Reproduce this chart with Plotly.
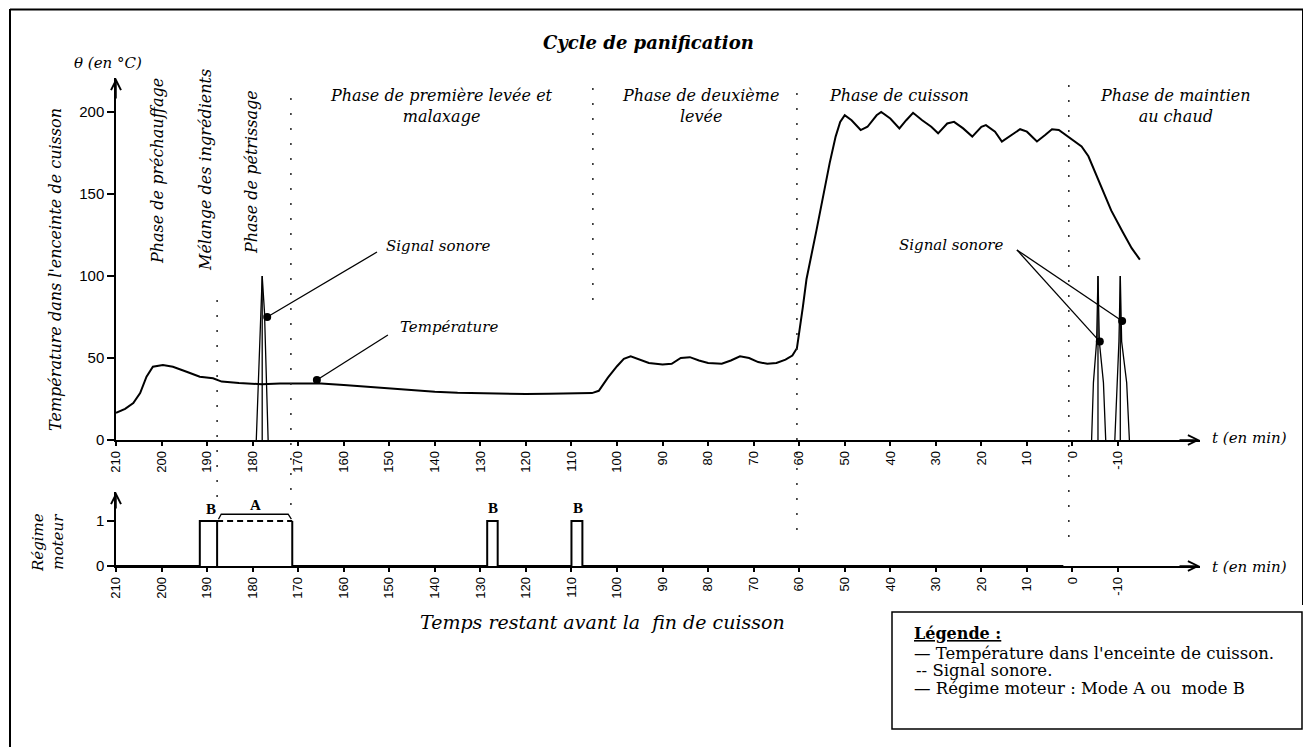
import plotly.graph_objects as go

# ---------------- DATA ----------------
tick_vals = [210, 200, 190, 180, 170, 160, 150, 140, 130, 120, 110, 100, 90, 80, 70, 60, 50, 40, 30, 20, 10, 0, -10]
tick_text = [str(v) for v in tick_vals]
temp_ticks = [0, 50, 100, 150, 200]
motor_ticks = [0, 1]

# Temperature in the baking chamber (time remaining in min, °C)
temp_t = [210, 208, 206.2, 204.7, 203.3, 201.9, 199.7, 197.5, 194.5, 191.6, 188.7, 186.8, 183,
          178, 174, 170, 165, 160, 155, 150, 145, 140, 135, 130, 125, 120, 115, 110, 105.5,
          104, 102, 100, 98.5, 97, 95, 93, 90, 88, 86, 84, 82, 80, 77, 75, 73, 71, 69, 67, 65,
          63, 61.5, 60.5, 59.2, 58.4, 56.2, 54.7, 53.3, 52, 51, 50, 48.5, 46.5, 45, 43, 42, 40,
          38, 36.5, 35, 33, 31, 29.5, 27.5, 26, 24, 22, 20, 19, 17, 15.5, 13, 11.5, 10, 7.8, 6,
          4.5, 3, 1.2, 0, -2, -3.5, -5, -7, -8.5, -11, -13, -14.8]
temp_v = [16.5, 19, 22.5, 28.6, 38.6, 44.7, 45.7, 44.7, 41.6, 38.6, 37.6, 35.6, 34.7,
          34, 34.5, 34.5, 34.5, 33.5, 32.5, 31.5, 30.2, 29.4, 28.8, 28.4, 28.2, 28, 28.2, 28.4, 28.6,
          30, 38, 45, 49.5, 51, 49, 47, 46, 46.5, 50, 50.5, 48.5, 47, 46.5, 48.5, 51, 50, 47.5, 46.5, 47,
          49, 51.5, 56, 81, 98, 128, 150, 169, 185, 194, 198, 195, 189, 191, 198, 200, 196,
          190, 195, 199.5, 195, 191, 187, 193, 194, 190, 185, 191, 192, 188, 182, 187, 189.5, 188, 182, 186,
          189.5, 189, 185.5, 183, 179, 173, 163, 150, 140, 127, 117, 110]

# Sound signal pulses
sig1_t = [179.2, 178.4, 177.9, 177.4, 176.6, None, 177.9, 177.9]
sig1_v = [0, 60, 100, 78, 0, None, 0, 100]
sig2_t = [-4.2, -4.6, -5.3, -5.6, -5.9, -6.8, -7.3, None, -5.6, -5.6]
sig2_v = [0, 35, 60, 100, 60, 35, 0, None, 0, 100]
sig3_t = [-9.3, -9.8, -10.2, -10.5, -10.8, -11.9, -12.5, None, -10.5, -10.5]
sig3_v = [0, 35, 60, 100, 60, 35, 0, None, 0, 100]

# Motor regime: mode B pulses and mode A interval (start, end in min remaining)
mode_B = [(191.6, 187.8), (128.5, 126.2), (110.0, 107.6)]
mode_A = (187.8, 171.3)
motor_level = 1.0

# Callout dots (time, value)
callout_t = [176.8, 165.9, -6.0, -10.9]
callout_v = [75, 36.6, 60, 72.6]

# ---------------- LAYOUT GEOMETRY (page pixel coords) ----------------
OFF = 8                      # default body margin of the html page
PW, PH = 1311, 747
W, H = PW - OFF, PH - OFF
L, R, T, B = 116, 1200, 78, 566   # plot area in page pixels
X0, X1 = 210, -28
def px_x(p):
    return (p - L) / (R - L)
def px_y(p):
    return (B - p) / (B - T)
top_dom = [px_y(440), 1.0]
bot_dom = [0.0, px_y(492)]
top_max = 200 * (440 - T) / (440 - 112)
bot_max = (566 - 492) / 45.0

fig = go.Figure()

black = "black"
fig.add_trace(go.Scatter(x=temp_t, y=temp_v, mode="lines", line=dict(color=black, width=2),
                         xaxis="x", yaxis="y", hoverinfo="skip", showlegend=False))
for st, sv in [(sig1_t, sig1_v), (sig2_t, sig2_v), (sig3_t, sig3_v)]:
    fig.add_trace(go.Scatter(x=st, y=sv, mode="lines", line=dict(color=black, width=1.3),
                             xaxis="x", yaxis="y", showlegend=False, hoverinfo="skip"))
fig.add_trace(go.Scatter(x=callout_t, y=callout_v, mode="markers",
                         marker=dict(color=black, size=8), xaxis="x", yaxis="y",
                         showlegend=False, hoverinfo="skip"))

# Motor trace built from intervals
mt, mv = [210], [0]
for i, (a, b) in enumerate(mode_B):
    mt += [a, a, b, b]
    mv += [0, motor_level, motor_level, 0]
    if i == 0:
        mt += [mode_A[0], None, mode_A[1], mode_A[1]]
        mv += [0, None, motor_level, 0]
mt += [2]
mv += [0]
fig.add_trace(go.Scatter(x=mt, y=mv, mode="lines", line=dict(color=black, width=2),
                         xaxis="x2", yaxis="y2", showlegend=False, hoverinfo="skip"))
fig.add_trace(go.Scatter(x=[mode_A[0], mode_A[1]], y=[motor_level, motor_level], mode="lines",
                         line=dict(color=black, width=2, dash="6px,4px"),
                         xaxis="x2", yaxis="y2", showlegend=False, hoverinfo="skip"))

tickfont = dict(family="Liberation Sans", size=13, color=black)
xcommon = dict(range=[X0, X1], showgrid=False, zeroline=False, showline=True, linecolor=black,
               linewidth=1.5, ticks="outside", ticklen=4, tickwidth=1.5, tickcolor=black,
               tickmode="array", tickvals=tick_vals, ticktext=tick_text, tickangle=-90,
               tickfont=tickfont, fixedrange=True)
ycommon = dict(showgrid=False, zeroline=False, showline=True, linecolor=black, linewidth=1.5,
               ticks="outside", ticklen=7, tickwidth=1.5, tickcolor=black,
               tickfont=dict(family="Liberation Sans", size=15, color=black), tickmode="array")

fig.update_layout(
    width=W, height=H, autosize=False,
    margin=dict(l=L - OFF, r=W - (R - OFF), t=T - OFF, b=H - (B - OFF), pad=0),
    paper_bgcolor="white", plot_bgcolor="white", showlegend=False,
    xaxis=dict(xcommon, anchor="y", domain=[0, 1]),
    yaxis=dict(ycommon, anchor="x", domain=top_dom, range=[0, top_max], tickvals=temp_ticks),
    xaxis2=dict(xcommon, anchor="y2", domain=[0, 1]),
    yaxis2=dict(ycommon, anchor="x2", domain=bot_dom, range=[0, bot_max], tickvals=motor_ticks),
)

shapes = []
# vertical dotted phase separators (time, top px, bottom px)
phase_lines = [(187.8, 300, 497), (171.6, 95, 505), (105.3, 85, 300), (60.5, 82, 530), (0.8, 80, 537)]
for t, ytop, ybot in phase_lines:
    shapes.append(dict(type="line", xref="x", yref="paper", x0=t, x1=t, y0=px_y(ybot), y1=px_y(ytop),
                       line=dict(color="#222", width=1.5, dash="2px,13px")))
# callout lines (from label anchor to dot)
callout_from = [(152.7, 114.6), (150.3, 64), (12.2, 115.9), (12.2, 115.9)]
for (fx, fy), tx, tv in zip(callout_from, callout_t, callout_v):
    shapes.append(dict(type="line", xref="x", yref="y", x0=fx, y0=fy, x1=tx, y1=tv,
                       line=dict(color=black, width=1.3)))
# brace over mode A
shapes.append(dict(type="path", xref="x2", yref="y2",
                   path=f"M {mode_A[0]-0.3},1.04 L {mode_A[0]-0.9},1.15 L {mode_A[1]+0.9},1.15 L {mode_A[1]+0.2},1.04",
                   line=dict(color=black, width=1.3)))
# frame
shapes.append(dict(type="line", xref="paper", yref="paper", x0=px_x(10), x1=px_x(10), y0=px_y(747), y1=px_y(9),
                   line=dict(color=black, width=2)))
shapes.append(dict(type="line", xref="paper", yref="paper", x0=px_x(10), x1=px_x(1303), y0=px_y(9.5), y1=px_y(9.5),
                   line=dict(color=black, width=2)))
shapes.append(dict(type="line", xref="paper", yref="paper", x0=px_x(1303), x1=px_x(1303), y0=px_y(605), y1=px_y(9),
                   line=dict(color=black, width=2)))
# legend box
shapes.append(dict(type="rect", xref="paper", yref="paper", x0=px_x(892), x1=px_x(1302), y0=px_y(729), y1=px_y(612),
                   line=dict(color=black, width=1.5), fillcolor="white"))
fig.update_layout(shapes=shapes)

ann = []
serif = "DejaVu Serif"
def text(px, py, s, size=16, italic=True, bold=False, angle=0, xanchor="center", family=serif):
    st = "<i>%s</i>" % s if italic else s
    if bold:
        st = "<b>%s</b>" % st
    ann.append(dict(xref="paper", yref="paper", x=px_x(px), y=px_y(py), text=st, showarrow=False,
                    textangle=angle, xanchor=xanchor, yanchor="middle",
                    font=dict(family=family, size=size, color=black)))

text(648, 42, "Cycle de panification", size=18, bold=True)
text(108, 63, "θ (en °C)", size=15)
text(55, 270, "Température dans l'enceinte de cuisson", size=16, angle=-90)
text(157, 171, "Phase de préchauffage", size=16, angle=-90)
text(205, 170, "Mélange des ingrédients", size=16, angle=-90)
text(251, 172, "Phase de pétrissage", size=16, angle=-90)
text(441, 106, "Phase de première levée et<br>malaxage", size=16)
text(700, 106, "Phase de deuxième<br>levée", size=16)
text(899, 95, "Phase de cuisson", size=16)
text(1175, 106, "Phase de maintien<br>au chaud", size=16)
text(438, 246, "Signal sonore", size=15)
text(449, 327, "Température", size=15)
text(951, 245, "Signal sonore", size=15)
text(1249, 438, "t (en min)", size=15)
text(1249, 567, "t (en min)", size=15)
text(48, 543, "Régime<br>moteur", size=15, angle=-90)
text(602, 622, "Temps restant avant la  fin de cuisson", size=19)
text(211, 509, "B", size=15, italic=False, bold=True, family="Liberation Serif")
text(255, 505, "A", size=15, italic=False, bold=True, family="Liberation Serif")
text(493, 508, "B", size=15, italic=False, bold=True, family="Liberation Serif")
text(578, 508, "B", size=15, italic=False, bold=True, family="Liberation Serif")
# legend text
text(912, 633, "<u>Légende :</u>", size=16, italic=False, bold=True, xanchor="left")
text(912, 653, "— Température dans l'enceinte de cuisson.", size=16.5, italic=False, xanchor="left")
text(914, 670, "-- Signal sonore.", size=16.5, italic=False, xanchor="left")
text(912, 688, "— Régime moteur : Mode A ou  mode B", size=16.5, italic=False, xanchor="left")

# axis arrows
for xr, yr, x, y, ax, ay in [("x", "y", X1, 0, -22, 0), ("x2", "y2", X1, 0, -22, 0),
                             ("x", "y", X0, top_max, 0, 22), ("x2", "y2", X0, bot_max, 0, 18)]:
    ann.append(dict(xref=xr, yref=yr, x=x, y=y, ax=ax, ay=ay, text="", showarrow=True,
                    arrowhead=5, arrowsize=1.3, arrowwidth=1.5, arrowcolor=black, standoff=0))
fig.update_layout(annotations=ann)

fig.write_html("out.html")
